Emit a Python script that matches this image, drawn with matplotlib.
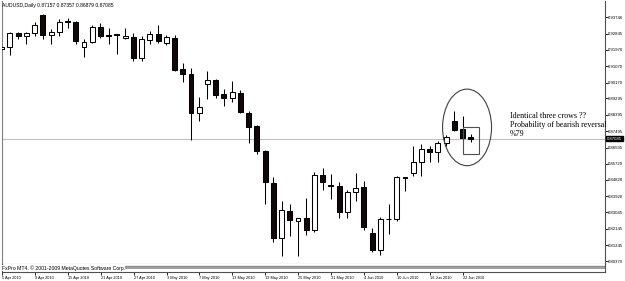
import matplotlib
matplotlib.use("Agg")
import matplotlib.pyplot as plt
from matplotlib.patches import Rectangle, Ellipse
from matplotlib.transforms import blended_transform_factory

# ---------------- data ----------------
symbol = "AUDUSD,Daily"
opens = [0.92017, 0.92143, 0.92877, 0.92729, 0.92877, 0.93880, 0.92784, 0.92932, 0.93551, 0.93480,
         0.92127, 0.92417, 0.93206, 0.92784, 0.92823, 0.92603, 0.92691, 0.91540, 0.92510, 0.92823,
         0.92362, 0.92636, 0.90905, 0.90647, 0.88493, 0.90083, 0.90318, 0.89535, 0.89348, 0.89589,
         0.88493, 0.87759, 0.86427, 0.84657, 0.81643, 0.83139, 0.82591, 0.82717, 0.82098, 0.85112,
         0.84548, 0.84509, 0.83046, 0.84142, 0.84438, 0.81917, 0.80964, 0.82685, 0.82701, 0.84964,
         0.85205, 0.85808, 0.86521, 0.86373, 0.86866, 0.88071, 0.87644, 0.87157]
highs = [0.92209, 0.92965, 0.92949, 0.92965, 0.93480, 0.93935, 0.93097, 0.93661, 0.93699, 0.93551,
         0.92565, 0.93332, 0.93425, 0.93151, 0.92823, 0.93184, 0.92877, 0.92729, 0.93003, 0.93332,
         0.92784, 0.92784, 0.91233, 0.90959, 0.89403, 0.90828, 0.90373, 0.89809, 0.90280, 0.89770,
         0.88619, 0.87852, 0.86482, 0.84964, 0.83649, 0.83523, 0.82739, 0.83835, 0.85260, 0.85479,
         0.85151, 0.84712, 0.84290, 0.85205, 0.84745, 0.82191, 0.82794, 0.83523, 0.85057, 0.84964,
         0.86663, 0.86795, 0.86663, 0.86937, 0.87304, 0.88619, 0.88307, 0.87357]
lows = [0.91907, 0.91688, 0.92549, 0.92291, 0.92729, 0.92549, 0.92275, 0.92746, 0.93151, 0.92275,
        0.91595, 0.92362, 0.92636, 0.92291, 0.91743, 0.92549, 0.91359, 0.91359, 0.92275, 0.92362,
        0.92236, 0.90828, 0.90225, 0.87030, 0.88033, 0.89261, 0.89315, 0.88893, 0.89129, 0.88493,
        0.86849, 0.86247, 0.83523, 0.81402, 0.80635, 0.81769, 0.80635, 0.81824, 0.81950, 0.84252,
        0.83781, 0.82739, 0.82739, 0.83649, 0.82098, 0.80876, 0.80728, 0.81879, 0.82553, 0.84235,
        0.85019, 0.85019, 0.85786, 0.85786, 0.86701, 0.87485, 0.87069, 0.86879]
closes = [0.92127, 0.92877, 0.92729, 0.92877, 0.93332, 0.92784, 0.92965, 0.93513, 0.93480, 0.92455,
          0.92417, 0.93206, 0.92729, 0.92746, 0.92784, 0.92729, 0.91540, 0.92549, 0.92823, 0.92472,
          0.92658, 0.90866, 0.90631, 0.88493, 0.88822, 0.90318, 0.89496, 0.89348, 0.89644, 0.88565,
          0.87704, 0.86427, 0.84690, 0.81643, 0.83194, 0.82608, 0.82739, 0.82098, 0.85112, 0.84690,
          0.84509, 0.83046, 0.84164, 0.84383, 0.82224, 0.80964, 0.82685, 0.82701, 0.84964, 0.84931,
          0.85797, 0.86521, 0.86373, 0.86849, 0.87195, 0.87578, 0.87140, 0.87085]

date_labels = ["5 Apr 2010", "9 Apr 2010", "15 Apr 2010", "21 Apr 2010", "27 Apr 2010",
               "3 May 2010", "7 May 2010", "13 May 2010", "19 May 2010", "25 May 2010",
               "31 May 2010", "4 Jun 2010", "10 Jun 2010", "16 Jun 2010", "22 Jun 2010"]
date_every = 4

price_ticks = [0.93746, 0.92845, 0.91970, 0.91070, 0.90170, 0.89295, 0.88395, 0.87495,
               0.86595, 0.85720, 0.84820, 0.83920, 0.83045, 0.82145, 0.81245, 0.80370]

note_lines = ["Identical three crows ??", "Probability of bearish reversal", "%79"]
copyright_text = "FxPro MT4. \u00a9 2001-2009 MetaQuotes Software Corp."

# annotation shapes drawn on the chart (bar index / price)
ellipse_center = (56.54, 0.87707)
ellipse_size = (5.95, 0.04204)
box_bars = (56, 58)
box_prices = (0.86247, 0.87726)

# ---------------- figure ----------------
W, H = 625, 281
fig = plt.figure(figsize=(W / 100, H / 100), dpi=100)
fig.patch.set_facecolor("white")
renderer = fig.canvas.get_renderer()


def fx(px):
    return px / W


def fy(py):
    return 1 - py / H


def fit(t, target_px):
    t.set_fontsize(10)
    w = t.get_window_extent(renderer).width
    t.set_fontsize(10 * target_px / w)
    return 10 * target_px / w


def size_for(text, target_px, family):
    t = fig.text(0, 0, text, family=family)
    s = fit(t, target_px)
    t.remove()
    return s


SANS = "Liberation Sans"
SERIF = "Liberation Serif"
FRAME = "#505050"

x_left, x_right = 2, 605
y_top, y_bottom = 1, 263.5
ax = fig.add_axes([fx(x_left), fy(y_bottom), fx(x_right) - fx(x_left), fy(y_top) - fy(y_bottom)])
ax.set_facecolor("white")
ax.set_xlim(0.036, 73.3)
ax.set_ylim(0.80235, 0.94647)

last = closes[-1]
ax.axhline(last, color="#c0c0c0", lw=0.8, zorder=0)

bw = 0.6
for i, (o, h, l, c) in enumerate(zip(opens, highs, lows, closes)):
    ax.vlines(i, l, h, color="black", lw=0.75, zorder=2)
    bull = c >= o
    ax.add_patch(Rectangle((i - bw / 2, min(o, c)), bw, max(abs(c - o), 1e-5),
                           facecolor="white" if bull else "#100808",
                           edgecolor="black", lw=0.75, zorder=3))

ax.add_patch(Ellipse(ellipse_center, ellipse_size[0], ellipse_size[1],
                     fill=False, edgecolor="#404040", lw=0.8, zorder=4))
ax.add_patch(Rectangle((box_bars[0], box_prices[0]), box_bars[1] - box_bars[0],
                       box_prices[1] - box_prices[0], fill=False,
                       edgecolor="#505050", lw=0.8, zorder=4))

# price axis on the right
ax.set_xticks([])
ax.yaxis.tick_right()
ax.set_yticks(price_ticks)
ax.set_yticklabels([f"{p:.5f}" for p in price_ticks])
ysize = size_for("0.93746", 15.5, SANS)
ax.tick_params(axis="y", which="both", right=True, left=False, length=1.8, width=0.6,
               pad=0.6, labelsize=ysize, colors="black")
for lab in ax.get_yticklabels():
    lab.set_family(SANS)
ax.spines["top"].set_visible(False)
ax.spines["left"].set_color("#808080")
ax.spines["right"].set_color(FRAME)
ax.spines["bottom"].set_color(FRAME)
for s in ["left", "right", "bottom"]:
    ax.spines[s].set_linewidth(0.8)

tr = blended_transform_factory(ax.transAxes, ax.transData)
ax.text(1.0 + 2.0 / (x_right - x_left), last, f"{last:.5f}", transform=tr, ha="left", va="center",
        color="white", fontsize=ysize, family=SANS, clip_on=False,
        bbox=dict(facecolor="black", edgecolor="black", pad=0.5), zorder=6)

# header
hdr = fig.text(fx(2), fy(5.5), f"{symbol} {opens[-1]:.5f} {highs[-1]:.5f} {lows[-1]:.5f} {closes[-1]:.5f}",
               ha="left", va="center", family=SANS, color="black")
fit(hdr, 111)

# annotation text
note_size = size_for("Probability of bearish reversal", 97, SERIF)
for k, line in enumerate(note_lines):
    fig.text(fx(510), fy(116 + 9 * k), line, ha="left", va="center", family=SERIF,
             color="black", fontsize=note_size)

# thin bottom strip with copyright and date axis
sy0, sy1 = 263.5, 271.5
sax = fig.add_axes([fx(x_left), fy(sy1), fx(x_right) - fx(x_left), fy(sy0) - fy(sy1)])
sax.set_xlim(ax.get_xlim())
sax.set_ylim(0, 1)
sax.set_yticks([])
sax.spines["top"].set_visible(False)
for s in ["left", "right", "bottom"]:
    sax.spines[s].set_color(FRAME)
    sax.spines[s].set_linewidth(0.8)
for ypx, col, lw in [(265.6, "#909090", 1.0), (268.0, "#909090", 1.2)]:
    sax.axhline((sy1 - ypx) / (sy1 - sy0), color=col, lw=lw, zorder=1)
ct = sax.text(0.0, (sy1 - 268.0) / (sy1 - sy0), copyright_text, transform=sax.transAxes,
              ha="left", va="center", family=SANS, color="black", zorder=3,
              bbox=dict(facecolor="white", edgecolor="none", pad=0.3))
fit(ct, 124)

pos = list(range(0, date_every * len(date_labels), date_every))
sax.set_xticks(pos)
sax.set_xticklabels(date_labels, ha="left")
dsize = size_for("15 Apr 2010", 21, SANS)
sax.tick_params(axis="x", length=2.2, width=0.6, pad=0.8, labelsize=dsize, colors="black")
for lab in sax.get_xticklabels():
    lab.set_family(SANS)

fig.savefig("out.png", dpi=100, facecolor="white")
